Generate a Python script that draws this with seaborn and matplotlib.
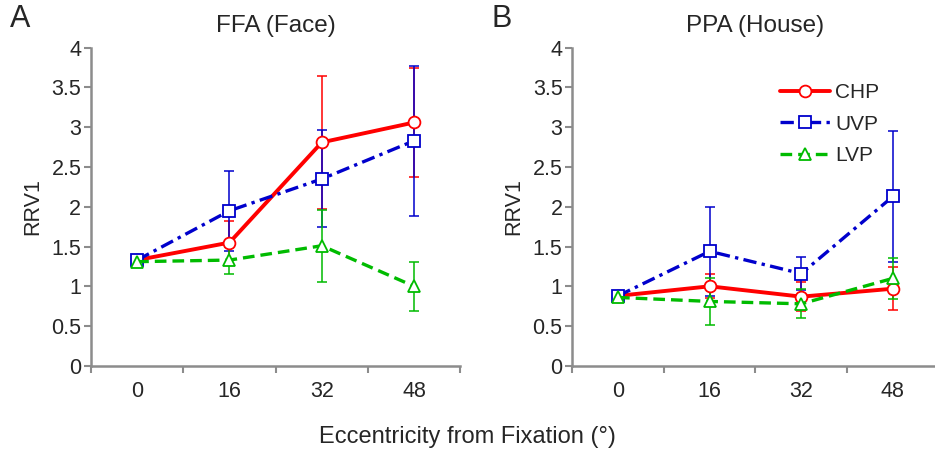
import numpy as np
import pandas as pd
import matplotlib
matplotlib.use("Agg")
import matplotlib.pyplot as plt
import seaborn as sns

# Data
ecc_labels = ["0", "16", "32", "48"]
conditions = ["CHP", "UVP", "LVP"]

ffa_chp = [1.33, 1.55, 2.81, 3.06]
ffa_chp_err = [0.05, 0.27, 0.84, 0.69]
ffa_uvp = [1.33, 1.95, 2.35, 2.83]
ffa_uvp_err = [0.06, 0.50, 0.61, 0.94]
ffa_lvp = [1.31, 1.33, 1.51, 1.00]
ffa_lvp_err = [0.07, 0.17, 0.45, 0.31]

ppa_chp = [0.88, 1.00, 0.87, 0.97]
ppa_chp_err = [0.04, 0.15, 0.18, 0.27]
ppa_uvp = [0.88, 1.44, 1.16, 2.13]
ppa_uvp_err = [0.05, 0.56, 0.21, 0.82]
ppa_lvp = [0.86, 0.81, 0.78, 1.10]
ppa_lvp_err = [0.06, 0.30, 0.18, 0.26]

panels = [
    ("A", "FFA (Face)", {"CHP": (ffa_chp, ffa_chp_err),
                         "UVP": (ffa_uvp, ffa_uvp_err),
                         "LVP": (ffa_lvp, ffa_lvp_err)}),
    ("B", "PPA (House)", {"CHP": (ppa_chp, ppa_chp_err),
                          "UVP": (ppa_uvp, ppa_uvp_err),
                          "LVP": (ppa_lvp, ppa_lvp_err)}),
]

styles = {
    "CHP": dict(color="#ff0000", marker="o", ls="-", lw=2.8),
    "UVP": dict(color="#0000cc", marker="s", ls=(0, (4, 1.6, 1, 1.6)), lw=2.4),
    "LVP": dict(color="#00bb00", marker="^", ls=(0, (3.5, 1.8)), lw=2.4),
}

sns.set_style("white")
plt.rcParams["font.family"] = ["Liberation Sans", "DejaVu Sans"]

fig = plt.figure(figsize=(9.35, 4.5), dpi=100)
axes = [fig.add_axes([0.0973, 0.187, 0.395, 0.707]),
        fig.add_axes([0.612, 0.187, 0.392, 0.707])]

gray = "#8c8c8c"
for ax, (letter, title, series) in zip(axes, panels):
    for cond in conditions:
        vals, errs = series[cond]
        st = styles[cond]
        df = pd.DataFrame({"pos": np.arange(len(ecc_labels)), "RRV1": vals})
        ax.errorbar(df["pos"], df["RRV1"], yerr=errs, fmt="none",
                    ecolor=st["color"], elinewidth=1.1, capsize=3.5,
                    capthick=1.1, zorder=1)
        sns.lineplot(data=df, x="pos", y="RRV1", ax=ax, color=st["color"],
                     linestyle=st["ls"], linewidth=st["lw"], marker=st["marker"],
                     markersize=8.5, markerfacecolor="white",
                     markeredgecolor=st["color"], markeredgewidth=1.3,
                     label=cond, zorder=2)

    ax.set_xlim(-0.5, 3.5)
    ax.set_ylim(0, 4)
    ax.set_xticks(range(len(ecc_labels)))
    ax.set_xticklabels(ecc_labels)
    ax.set_xticks([-0.5, 0.5, 1.5, 2.5, 3.5], minor=True)
    ax.set_yticks(np.arange(0, 4.01, 0.5))
    ax.set_yticklabels(["0", "0.5", "1", "1.5", "2", "2.5", "3", "3.5", "4"])
    ax.tick_params(axis="x", which="major", length=0, pad=11, labelsize=15.5)
    ax.tick_params(axis="x", which="minor", length=5, width=1.5, color=gray,
                   direction="out", bottom=True)
    ax.tick_params(axis="y", length=5, width=1.5, color=gray, direction="out",
                   left=True, labelsize=15.5, pad=2)
    for side in ["top", "right"]:
        ax.spines[side].set_visible(False)
    for side in ["left", "bottom"]:
        ax.spines[side].set_color(gray)
        ax.spines[side].set_linewidth(1.8)
    ax.set_xlabel("")
    ax.set_ylabel("RRV1", fontsize=15.5, labelpad=6)
    ax.set_title(title, fontsize=17.5, pad=11)
    ax.text(-0.22, 1.09, letter, transform=ax.transAxes, fontsize=22,
            ha="left", va="center")

axes[0].get_legend().remove()
axes[1].legend(loc="upper right", bbox_to_anchor=(0.86, 0.915), frameon=False,
               fontsize=15, handlelength=2.4, handletextpad=0.25,
               labelspacing=0.6, borderaxespad=0)

fig.text(0.5, 0.03, "Eccentricity from Fixation (\u00b0)", ha="center",
         va="center", fontsize=17)

fig.savefig("out.png", dpi=100)
